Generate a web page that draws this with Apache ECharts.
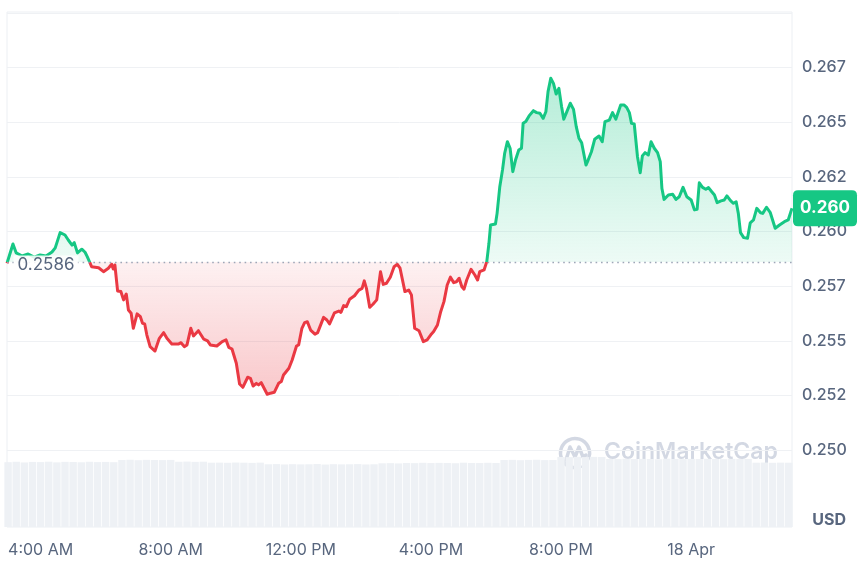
<!DOCTYPE html>
<html><head><meta charset="utf-8">
<script src="https://cdn.jsdelivr.net/npm/echarts@6/dist/echarts.min.js"></script>
<style>html,body{margin:0;padding:0;background:#fff}#c{width:859px;height:561px}</style>
</head><body><div id="c"></div>
<script>
// minutes since 00:00, 17 Apr
const times = [178,189,195,206,217,228,239,250,261,267,276,285,291,298,302,308,316,322,326,331,
334,347,356,365,371,374,377,382,388,393,398,402,407,411,418,424,428,432,436,442,
451,459,467,473,482,494,499,505,510,517,522,531,541,548,553,565,575,582,587,593,
601,607,613,622,627,632,638,642,647,658,664,671,679,684,688,698,704,712,716,722,
727,732,738,746,751,762,768,773,782,790,794,799,804,810,819,827,833,837,841,847,
853,860,867,872,878,885,892,898,903,912,919,924,930,938,946,953,961,965,972,978,
984,990,996,1002,1007,1012,1017,1021,1026,1034,1041,1046,1050,1058,1063,1067,1070,1079,1082,1087,
1092,1096,1101,1106,1111,1116,1122,1127,1130,1135,1141,1149,1155,1161,1167,1172,1176,1181,1186,1191,
1196,1201,1205,1210,1217,1223,1228,1233,1238,1246,1250,1256,1262,1270,1276,1281,1289,1295,1301,1310,
1316,1321,1326,1330,1335,1341,1346,1350,1355,1361,1366,1372,1378,1383,1386,1390,1398,1406,1412,1418,
1425,1432,1440,1446,1451,1455,1461,1467,1472,1478,1483,1488,1495,1501,1506,1513,1518,1523,1527,1531,
1537,1544,1549,1555,1561,1568,1572,1579,1586,1595,1603,1612,1619,1626];
const prices = [0.25855,0.25943,0.25902,0.25888,0.25897,0.25883,0.25893,0.25888,0.25906,0.25925,
0.25995,0.25984,0.25961,0.25938,0.25949,0.25902,0.25919,0.25905,0.25885,0.25857,
0.25839,0.25834,0.25816,0.25832,0.2585,0.25828,0.25847,0.25728,0.25725,0.25687,
0.25714,0.25641,0.25626,0.25557,0.25623,0.2561,0.2558,0.25577,0.25526,0.25473,
0.25453,0.25511,0.25537,0.25511,0.25485,0.25485,0.25491,0.25473,0.25481,0.25557,
0.25522,0.25546,0.25507,0.25499,0.25481,0.25476,0.25496,0.25504,0.2547,0.25462,
0.25397,0.25302,0.25287,0.25333,0.25328,0.25293,0.25305,0.25298,0.25308,0.25255,
0.2526,0.25264,0.25305,0.25313,0.25343,0.25374,0.25412,0.25476,0.25481,0.25557,
0.25583,0.25587,0.25549,0.2553,0.25537,0.25607,0.25595,0.25577,0.25628,0.25636,
0.2563,0.25661,0.25656,0.2569,0.25706,0.25732,0.2574,0.25774,0.2574,0.25653,
0.25667,0.25687,0.25816,0.25758,0.25763,0.25791,0.25839,0.2585,0.25832,0.25725,
0.25732,0.2571,0.25557,0.25546,0.25496,0.25504,0.25531,0.25542,0.25572,0.25633,
0.25679,0.25755,0.25791,0.25766,0.2577,0.25786,0.25747,0.25736,0.25778,0.25827,
0.25801,0.25778,0.25816,0.25824,0.25862,0.25946,0.2603,0.26034,0.26083,0.26205,
0.26282,0.26358,0.26411,0.26381,0.26274,0.26327,0.26373,0.26381,0.26495,0.26503,
0.26529,0.26553,0.26544,0.26541,0.26518,0.26548,0.2664,0.26701,0.26678,0.26629,
0.26655,0.26571,0.26514,0.26544,0.26587,0.26559,0.2648,0.26427,0.26406,0.26304,
0.26327,0.26365,0.26422,0.26437,0.26411,0.26503,0.2651,0.26544,0.26514,0.26579,
0.26579,0.26568,0.26544,0.26495,0.26492,0.26342,0.26269,0.26346,0.26361,0.2635,
0.26411,0.26381,0.26361,0.2632,0.26198,0.26147,0.26167,0.2617,0.26147,0.26159,
0.26202,0.26159,0.26144,0.26099,0.26102,0.26223,0.26202,0.26193,0.26201,0.26182,
0.26167,0.26132,0.2614,0.26144,0.26163,0.2614,0.26129,0.26136,0.26083,0.25995,
0.25972,0.25969,0.2604,0.26053,0.26106,0.26086,0.26083,0.26111,0.26086,0.26015,
0.2603,0.26045,0.26053,0.26106];
const baseline = 0.2586;
const baselineLabel = '0.2586';
const lastPriceLabel = '0.260';
const volStart = 180, volStep = 15;
const volumes = [74.5,75.0,74.2,74.8,74.6,75.1,74.3,74.9,74.7,74.4,75.0,74.6,74.8,74.5,
77.0,77.3,76.8,77.2,77.0,76.9,77.1,
75.0,75.2,74.9,75.1,
73.9,74.0,73.8,74.1,73.9,73.7,74.0,
72.1,72.3,71.9,72.2,72.0,72.1,72.4,71.8,72.2,72.0,72.1,72.3,71.9,72.1,
73.2,73.4,73.1,
73.6,73.4,73.8,73.5,73.7,73.6,73.3,73.9,73.6,73.5,73.8,73.6,
77.0,77.2,76.8,77.1,77.3,76.9,77.0,
80.5,80.3,80.7,80.4,80.6,80.5,
78.2,78.0,78.4,78.1,78.3,78.2,77.9,78.5,78.2,78.0,78.3,78.1,78.4,78.2,78.0,78.3,78.1,78.2,
73.9,74.1,73.8,74.0,73.9];
const xTickMinutes = [240,480,720,960,1200,1440];
const xTickLabels = ['4:00 AM','8:00 AM','12:00 PM','4:00 PM','8:00 PM','18 Apr'];
const yMin = 0.25, yMax = 0.27, yInterval = 0.0025;

const GREEN = '#16c784', RED = '#ea3943', GRAY = '#58667e';
const xMin = times[0], xMax = times[times.length - 1];
const priceData = times.map((t, i) => [t, prices[i]]);
const volData = volumes.map((v, i) => [volStart + volStep * i, v]);
const last = priceData[priceData.length - 1];
const tagShape = 'path://M5,0 H59 Q64,0 64,5 V31 Q64,36 59,36 H5 Q0,36 0,31 V5 Q0,0 5,0 Z';

const chart = echarts.init(document.getElementById('c'));
chart.setOption({
  animation: false,
  textStyle: { fontFamily: 'Inter' },
  grid: [
    { left: 7, right: 67, top: 13, bottom: 111 },
    { left: 7, right: 67, top: 12, bottom: 34, show: true, borderColor: '#eceff3', borderWidth: 1 }
  ],
  xAxis: [
    { type: 'value', gridIndex: 0, min: xMin, max: xMax, show: false },
    { type: 'value', gridIndex: 1, min: xMin, max: xMax,
      axisLine: { show: false }, axisTick: { show: false }, splitLine: { show: false },
      axisLabel: { customValues: xTickMinutes, margin: 15, color: GRAY, fontSize: 16, fontFamily: 'Inter',
        formatter: v => xTickLabels[xTickMinutes.indexOf(v)] || '' } }
  ],
  yAxis: [
    { type: 'value', gridIndex: 0, position: 'right', min: yMin, max: yMax, interval: yInterval,
      axisLine: { show: false }, axisTick: { show: false },
      splitLine: { lineStyle: { color: '#eff1f4', width: 1 } },
      axisLabel: { showMaxLabel: false, margin: 10, color: GRAY, fontSize: 16, fontWeight: 500, fontFamily: 'Inter',
        formatter: v => (Math.floor(v * 1000 + 1e-6) / 1000).toFixed(3) } },
    { type: 'value', gridIndex: 1, min: 0, max: 592, show: false }
  ],
  graphic: [
    { type: 'text', right: 13, top: 512, style: { text: 'USD', fill: GRAY, font: 'bold 16px Inter' } },
    { type: 'group', left: 558, top: 436, silent: true, children: [
      { type: 'arc', shape: { cx: 17, cy: 17, r: 14.5, startAngle: Math.PI * 0.35, endAngle: Math.PI * 2.2 },
        style: { stroke: '#d3d8e3', lineWidth: 3.5, fill: 'none' } },
      { type: 'polyline', shape: { points: [[8, 24], [12, 11], [17, 21], [21, 11], [25, 21], [28, 19]] },
        style: { stroke: '#d3d8e3', lineWidth: 3.5, fill: 'none', lineJoin: 'round', lineCap: 'round' } },
      { type: 'text', x: 46, y: 5, style: { text: 'CoinMarketCap', fill: '#d3d8e3', font: '600 23px Inter' } }
    ] }
  ],
  series: [
    {
      type: 'bar', xAxisIndex: 1, yAxisIndex: 1, data: volData, barWidth: 7.4,
      itemStyle: { color: '#eef1f5' }, silent: true, z: 1
    },
    {
      id: 'price', type: 'line', xAxisIndex: 0, yAxisIndex: 0, data: priceData,
      showSymbol: false, symbol: 'none', clip: false, z: 3,
      lineStyle: { width: 3, join: 'round', color: GREEN },
      areaStyle: { origin: baseline, color: 'rgba(0,0,0,0)' },
      markLine: {
        silent: true, precision: 6, symbol: ['none', 'none'], label: { show: false },
        lineStyle: { type: [1.6, 3.8], color: '#9ea7b8', width: 1.4 },
        data: [{ yAxis: baseline }]
      },
      markPoint: {
        silent: true,
        data: [
          { coord: [xMin, baseline], symbol: 'rect', symbolSize: [1, 1],
            itemStyle: { color: 'rgba(0,0,0,0)' },
            label: { show: true, position: 'right', distance: 6, offset: [0, 3], formatter: baselineLabel,
              color: GRAY, fontSize: 17, fontFamily: 'Inter', backgroundColor: 'rgba(255,255,255,0.85)',
              padding: [1, 4] } },
          { coord: last, symbol: tagShape, symbolSize: [64, 36], symbolOffset: [33, 0],
            itemStyle: { color: GREEN },
            label: { show: true, position: 'inside', formatter: lastPriceLabel, color: '#fff',
              fontSize: 17, fontWeight: 'bold', fontFamily: 'Inter' } }
        ]
      }
    }
  ]
});

const px = v => chart.convertToPixel({ yAxisIndex: 0 }, v);
const yTop = px(Math.max(...prices)), yBot = px(Math.min(...prices)), yBase = px(baseline);
const t = (yBase - yTop) / (yBot - yTop);
chart.setOption({
  series: [{ id: 'price',
    lineStyle: { color: new echarts.graphic.LinearGradient(0, yTop, 0, yBot, [
      { offset: 0, color: GREEN }, { offset: t, color: GREEN },
      { offset: t, color: RED }, { offset: 1, color: RED }
    ], true) },
    areaStyle: { origin: baseline, color: new echarts.graphic.LinearGradient(0, yTop, 0, yBot, [
      { offset: 0, color: 'rgba(22,199,132,0.45)' },
      { offset: t, color: 'rgba(22,199,132,0.11)' },
      { offset: t, color: 'rgba(234,57,67,0.1)' },
      { offset: 1, color: 'rgba(234,57,67,0.4)' }
    ], true) } }]
});
</script></body></html>
